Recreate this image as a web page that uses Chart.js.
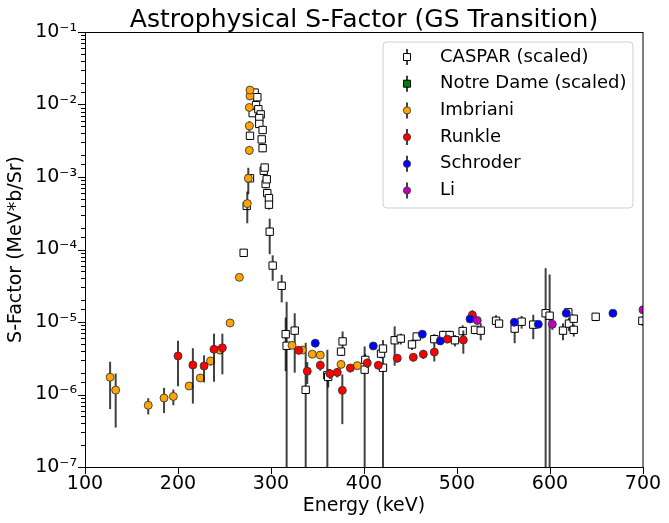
<!DOCTYPE html>
<html>
<head>
<meta charset="utf-8">
<script src="https://cdn.jsdelivr.net/npm/chart.js@4.4.1/dist/chart.umd.min.js"></script>
<style>
  body { margin: 0; background: #fff; }
  canvas { display: block; }
</style>
</head>
<body>
<canvas id="myChart" width="669" height="523"></canvas>
<script>
// energies in keV, S-factor in MeV*b/Sr, symmetric (linear) errors
const casparE = [270.6, 273.9, 277.4, 277.4, 280.3, 282.4, 285.3, 283.9, 286.4, 288.9, 287.4, 287.4, 291, 290, 291,
  292.2, 293.2, 294.3, 295.4, 296, 297.8, 297.8, 298.6, 301.8, 311.5, 315.8, 316.8, 325.5, 337.3, 360.6, 361.5,
  375.3, 377, 400.7, 401.4, 418.3, 420.4, 420.4, 433, 439.5, 451.6, 456.7, 475.6, 485.3, 492.1, 497.8, 506.1,
  519.4, 525.5, 542, 545.2, 562, 569.5, 582, 595.3, 599.6, 614, 619.7, 620.4, 625.5, 625.5, 649.1, 699.3]
const casparS = [9.0e-5, 4.0e-4, 9.6e-4, 3.7e-3, 7.6e-3, 1.46e-2, 1.26e-2, 9.8e-3, 8.6e-3, 7.3e-3, 6.5e-3, 5.4e-3, 4.45e-3, 3.3e-3, 2.5e-3,
  1.22e-3, 1.35e-3, 8.0e-4, 9.3e-4, 6.0e-4, 5.1e-4, 4.15e-4, 1.76e-4, 6.0e-5, 3.16e-5, 6.8e-6, 4.7e-6, 7.6e-6, 1.16e-6, 1.84e-6, 1.75e-6,
  3.9e-6, 5.4e-6, 2.2e-6, 3.0e-6, 3.66e-6, 4.3e-6, 2.34e-6, 5.6e-6, 5.9e-6, 4.9e-6, 6.3e-6, 5.8e-6, 6.6e-6, 6.6e-6, 5.6e-6, 7.5e-6,
  7.8e-6, 7.6e-6, 1.04e-5, 9.5e-6, 8.1e-6, 1.01e-5, 9.2e-6, 1.32e-5, 1.22e-5, 7.6e-6, 1.36e-5, 9.5e-6, 1.11e-5, 7.8e-6, 1.18e-5, 1.04e-5]
const casparErr = [1.0e-5, 5e-5, 1e-4, 4e-4, 8e-4, 1.5e-3, 1.3e-3, 1e-3, 9e-4, 8e-4, 7e-4, 6e-4, 5e-4, 4e-4, 3e-4,
  1.5e-4, 1.5e-4, 1e-4, 1e-4, 8e-5, 7e-5, 6e-5, 9e-5, 2.3e-5, 1.3e-5, 4.7e-6, 1.43e-5, 5.6e-6, 4.0e-6, 2.3e-6, 5e-7,
  5e-7, 2e-6, 2.4e-6, 6e-7, 5e-7, 5e-7, 3.3e-6, 3.1e-6, 1e-6, 8e-7, 8e-7, 1e-6, 1e-6, 1e-6, 1e-6, 1.5e-6,
  1e-6, 2e-6, 2e-6, 1e-6, 3e-6, 2e-6, 3.4e-6, 4.2e-5, 3.3e-5, 2e-6, 1e-6, 2e-6, 1.5e-6, 1.5e-6, 1.5e-6, 1.5e-6]

const notreDameE = []
const notreDameS = []
const notreDameErr = []

const imbrianiE = [127, 133, 168, 185, 195, 212, 224, 235, 245, 256, 266, 274.5, 275.6, 276.7, 276.7, 276.7, 277.4, 277.4,
  322.6, 333.7, 344.4, 353, 375.3, 392.8]
const imbrianiS = [1.73e-6, 1.15e-6, 7.1e-7, 8.95e-7, 9.4e-7, 1.31e-6, 1.69e-6, 2.9e-6, 4.1e-6, 9.7e-6, 4.13e-5, 4.3e-4, 9.6e-4, 2.33e-3, 5.05e-3, 9.1e-3, 1.31e-2, 1.58e-2,
  4.77e-6, 4.1e-6, 3.6e-6, 3.5e-6, 2.6e-6, 2.5e-6]
const imbrianiErr = [1.1e-6, 8e-7, 1.8e-7, 3.4e-7, 2.3e-7, 8e-8, 2e-7, 4e-7, 5e-7, 5e-7, 3e-6, 2e-4, 3.8e-4, 3e-4, 8e-4, 1e-3, 1.5e-3, 1.5e-3,
  5e-7, 4e-7, 4e-7, 4e-7, 3e-7, 3e-7]

const runkleE = [200, 216, 228, 238.7, 247.7, 329.8, 339, 353, 363.4, 371.3, 376.7, 385.3, 403.5, 415.4, 435.8, 453, 463.8, 475.6, 489.6, 506.8, 516.5]
const runkleS = [3.4e-6, 2.55e-6, 2.47e-6, 4.2e-6, 4.4e-6, 4.07e-6, 2.1e-6, 2.53e-6, 1.94e-6, 2.02e-6, 1.14e-6, 2.32e-6, 2.72e-6, 2.53e-6, 3.16e-6, 3.26e-6, 3.6e-6, 3.85e-6, 5.8e-6, 5.65e-6, 1.25e-5]
const runkleErr = [2.1e-6, 1.8e-6, 1.0e-6, 2.7e-6, 2.5e-6, 5e-7, 7e-7, 4e-7, 3e-7, 3e-7, 7.5e-7, 3e-7, 4e-7, 3e-7, 4e-7, 4e-7, 5e-7, 1e-6, 5e-7, 2e-6, 2e-6]

const schroderE = [347.6, 410, 462.7, 482, 514, 561.6, 587.4, 617.5, 667.7]
const schroderS = [5.1e-6, 4.67e-6, 6.8e-6, 5.47e-6, 1.1e-5, 9.9e-6, 9.3e-6, 1.32e-5, 1.32e-5]
const schroderErr = [6e-7, 5e-7, 4e-7, 5e-7, 1e-6, 1e-6, 1e-6, 1e-6, 8e-7]

const liE = [521.8, 602.5, 700]
const liS = [1.05e-5, 9.3e-6, 1.47e-5]
const liErr = [1e-6, 1.5e-6, 1e-6]

const yTickLabels = ['10⁻⁷', '10⁻⁶', '10⁻⁵', '10⁻⁴', '10⁻³', '10⁻²', '10⁻¹']

const FONT = "'DejaVu Sans', sans-serif"
Chart.defaults.font.family = FONT
Chart.defaults.color = '#000'

function series(label, E, S, err, style) {
  return Object.assign({
    label,
    data: E.map((x, i) => ({ x: x, y: S[i] })),
    yerr: err,
    borderWidth: 1,
    pointHoverRadius: 0
  }, style)
}

const circleEdge = 'rgba(50,50,50,0.85)'

const data = {
  datasets: [
    series('CASPAR (scaled)', casparE, casparS, casparErr,
      { pointStyle: 'rect', pointRadius: 5.2, backgroundColor: '#fff', borderColor: '#000', order: 6 }),
    series('Notre Dame (scaled)', notreDameE, notreDameS, notreDameErr,
      { pointStyle: 'rect', pointRadius: 5.2, backgroundColor: 'green', borderColor: '#000', order: 5 }),
    series('Imbriani', imbrianiE, imbrianiS, imbrianiErr,
      { pointStyle: 'circle', pointRadius: 4, backgroundColor: 'orange', borderColor: circleEdge, order: 4 }),
    series('Runkle', runkleE, runkleS, runkleErr,
      { pointStyle: 'circle', pointRadius: 4, backgroundColor: 'red', borderColor: circleEdge, order: 3 }),
    series('Schroder', schroderE, schroderS, schroderErr,
      { pointStyle: 'circle', pointRadius: 4, backgroundColor: 'blue', borderColor: circleEdge, order: 2 }),
    series('Li', liE, liS, liErr,
      { pointStyle: 'circle', pointRadius: 4, backgroundColor: '#bf00bf', borderColor: circleEdge, order: 1 })
  ]
}

function isDecade(v) {
  const e = Math.log10(v)
  return Math.abs(e - Math.round(e)) < 1e-9
}

// vertical error bars, drawn under each dataset's markers
const errorBars = {
  id: 'errorBars',
  beforeDatasetDraw(chart, args) {
    const ds = chart.data.datasets[args.index]
    if (!ds.yerr || !ds.data.length) return
    const { ctx, chartArea: a, scales: { x, y } } = chart
    ctx.save()
    ctx.beginPath()
    ctx.rect(a.left, a.top, a.right - a.left, a.bottom - a.top)
    ctx.clip()
    ctx.strokeStyle = 'rgba(0,0,0,0.75)'
    ctx.lineWidth = 2
    ds.data.forEach((p, i) => {
      const e = ds.yerr[i]
      const px = x.getPixelForValue(p.x)
      const top = y.getPixelForValue(p.y + e)
      const lo = p.y - e
      const bottom = lo > 0 ? y.getPixelForValue(lo) : a.bottom + 5
      ctx.beginPath()
      ctx.moveTo(px, top)
      ctx.lineTo(px, bottom)
      ctx.stroke()
    })
    ctx.restore()
  }
}

// frame, tick marks, title and legend box
const decorations = {
  id: 'decorations',
  afterDraw(chart) {
    const { ctx, chartArea: a, scales: { x, y } } = chart
    ctx.save()
    ctx.strokeStyle = '#000'
    ctx.lineWidth = 1
    ctx.strokeRect(a.left + 0.5, a.top + 0.5, a.right - a.left - 0.5, a.bottom - a.top)

    ctx.beginPath()
    y.ticks.forEach(t => {
      const py = Math.round(y.getPixelForValue(t.value)) + 0.5
      const len = isDecade(t.value) ? 7 : 4
      ctx.moveTo(a.left, py)
      ctx.lineTo(a.left - len, py)
    })
    x.ticks.forEach(t => {
      const px = Math.round(x.getPixelForValue(t.value)) + 0.5
      ctx.moveTo(px, a.bottom)
      ctx.lineTo(px, a.bottom + 7)
    })
    ctx.stroke()

    // title
    ctx.fillStyle = '#000'
    ctx.font = '25px ' + FONT
    ctx.textAlign = 'center'
    ctx.textBaseline = 'alphabetic'
    ctx.fillText('Astrophysical S-Factor (GS Transition)', (a.left + a.right) / 2, 27)

    // legend
    const bx = 383, by = 42, bw = 250, bh = 166, r = 4
    ctx.beginPath()
    ctx.moveTo(bx + r, by)
    ctx.arcTo(bx + bw, by, bx + bw, by + bh, r)
    ctx.arcTo(bx + bw, by + bh, bx, by + bh, r)
    ctx.arcTo(bx, by + bh, bx, by, r)
    ctx.arcTo(bx, by, bx + bw, by, r)
    ctx.closePath()
    ctx.fillStyle = 'rgba(255,255,255,0.8)'
    ctx.fill()
    ctx.strokeStyle = '#d0d0d0'
    ctx.stroke()

    ctx.font = '18px ' + FONT
    ctx.textAlign = 'left'
    ctx.textBaseline = 'middle'
    chart.data.datasets.forEach((ds, i) => {
      const cy = 57 + i * 26.7
      const mx = 407
      ctx.strokeStyle = 'rgba(0,0,0,0.75)'
      ctx.lineWidth = 2
      ctx.beginPath()
      ctx.moveTo(mx, cy - 8)
      ctx.lineTo(mx, cy + 8)
      ctx.stroke()
      ctx.lineWidth = 1
      ctx.fillStyle = ds.backgroundColor
      ctx.strokeStyle = ds.borderColor
      ctx.beginPath()
      if (ds.pointStyle === 'rect') {
        ctx.rect(mx - 3.5, cy - 3.5, 7, 7)
      } else {
        ctx.arc(mx, cy, 3.6, 0, Math.PI * 2)
      }
      ctx.fill()
      ctx.stroke()
      ctx.fillStyle = '#000'
      ctx.fillText(ds.label, 440, cy)
    })
    ctx.restore()
  }
}

const config = {
  type: 'scatter',
  data: data,
  options: {
    responsive: false,
    animation: false,
    events: [],
    devicePixelRatio: 1,
    layout: { padding: { top: 32, right: 26, left: 0, bottom: 0 } },
    plugins: {
      legend: { display: false },
      title: { display: false },
      tooltip: { enabled: false }
    },
    scales: {
      x: {
        type: 'linear',
        min: 100,
        max: 700,
        grid: { display: false, drawTicks: false },
        border: { display: false },
        ticks: { stepSize: 100, padding: 6, maxRotation: 0, font: { size: 19 }, color: '#000' },
        title: { display: true, text: 'Energy (keV)', font: { size: 19 }, color: '#000', padding: { top: 0, bottom: 6 } },
        afterFit: s => { s.height = 56 }
      },
      y: {
        type: 'logarithmic',
        min: 1e-7,
        max: 1e-1,
        grid: { display: false, drawTicks: false },
        border: { display: false },
        ticks: {
          autoSkip: false,
          padding: 8,
          font: { size: 19 },
          color: '#000',
          callback: v => isDecade(v) ? yTickLabels[Math.round(Math.log10(v)) + 7] : ''
        },
        title: { display: true, text: 'S-Factor (MeV*b/Sr)', font: { size: 19 }, color: '#000', padding: { top: 5, bottom: 0 } },
        afterFit: s => { s.width = 85 }
      }
    }
  },
  plugins: [errorBars, decorations]
}

const myChart = new Chart(document.getElementById('myChart'), config)
</script>
</body>
</html>
